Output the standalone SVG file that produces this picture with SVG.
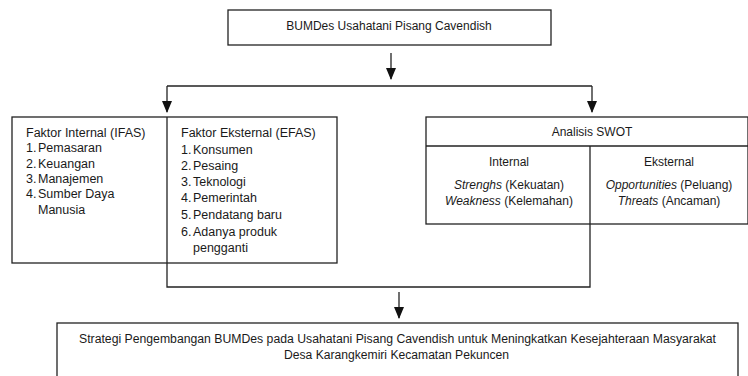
<svg xmlns="http://www.w3.org/2000/svg" width="748" height="376" viewBox="0 0 748 376">
<defs>
<marker id="ah" markerWidth="12" markerHeight="10" refX="11" refY="5" orient="auto" markerUnits="userSpaceOnUse" viewBox="0 0 12 10">
<path d="M0,0 L12,5 L0,10 Z" fill="#111"/>
</marker>
<style>
.box{fill:#fff;stroke:#222;stroke-width:1.3}
.ln{fill:none;stroke:#222;stroke-width:1.3}
.t{font-family:"Liberation Sans",Arial,sans-serif;font-size:12.5px;fill:#1a1a1a}
.s{font-family:"Liberation Sans",Arial,sans-serif;font-size:12px;fill:#1a1a1a}
.c{text-anchor:middle}
.i{font-style:italic}
</style>
</defs>
<rect width="748" height="376" fill="#fff"/>
<g id="connectors">
<path class="ln" d="M391,53 V79" marker-end="url(#ah)"/>
<path class="ln" d="M167,86 H592"/>
<path class="ln" d="M167,86 V112" marker-end="url(#ah)"/>
<path class="ln" d="M592,86 V112" marker-end="url(#ah)"/>
<path class="ln" d="M167,263 V287 H590 V224"/>
<path class="ln" d="M399,292 V318" marker-end="url(#ah)"/>
</g>
<g id="top">
<rect class="box" x="228" y="10" width="323" height="35"/>
<text class="s c" x="389" y="30">BUMDes Usahatani Pisang Cavendish</text>
</g>
<g id="factors">
<rect class="box" x="12" y="117" width="325" height="146"/>
<line class="ln" x1="167" y1="117" x2="167" y2="263"/>
<text class="t" x="26" y="137">Faktor Internal (IFAS)</text>
<text class="t" x="26" y="152">1.</text><text class="t" x="38" y="152">Pemasaran</text>
<text class="t" x="26" y="167.5">2.</text><text class="t" x="38" y="167.5">Keuangan</text>
<text class="t" x="26" y="183">3.</text><text class="t" x="38" y="183">Manajemen</text>
<text class="t" x="26" y="198">4.</text><text class="t" x="38" y="198">Sumber Daya</text>
<text class="t" x="38" y="213.5">Manusia</text>
<text class="t" x="181" y="137">Faktor Eksternal (EFAS)</text>
<text class="t" x="181" y="154">1.</text><text class="t" x="193" y="154">Konsumen</text>
<text class="t" x="181" y="170">2.</text><text class="t" x="193" y="170">Pesaing</text>
<text class="t" x="181" y="186">3.</text><text class="t" x="193" y="186">Teknologi</text>
<text class="t" x="181" y="202">4.</text><text class="t" x="193" y="202">Pemerintah</text>
<text class="t" x="181" y="219">5.</text><text class="t" x="193" y="219">Pendatang baru</text>
<text class="t" x="181" y="236">6.</text><text class="t" x="193" y="236">Adanya produk</text>
<text class="t" x="193" y="252">pengganti</text>
</g>
<g id="swot">
<rect class="box" x="426" y="117" width="322" height="107"/>
<line class="ln" x1="426" y1="146" x2="748" y2="146"/>
<line class="ln" x1="590" y1="146" x2="590" y2="224"/>
<text class="s c" x="592" y="136">Analisis SWOT</text>
<text class="s c" x="509" y="166">Internal</text>
<text class="s c" x="509" y="189"><tspan class="i">Strenghs</tspan> (Kekuatan)</text>
<text class="s c" x="509" y="205"><tspan class="i">Weakness</tspan> (Kelemahan)</text>
<text class="s c" x="669" y="166">Eksternal</text>
<text class="s c" x="669" y="189"><tspan class="i">Opportunities</tspan> (Peluang)</text>
<text class="s c" x="669" y="205"><tspan class="i">Threats</tspan> (Ancaman)</text>
</g>
<g id="bottom">
<rect class="box" x="57" y="323" width="681" height="60"/>
<text class="s c" x="397.5" y="343" textLength="637" lengthAdjust="spacingAndGlyphs">Strategi Pengembangan BUMDes pada Usahatani Pisang Cavendish untuk Meningkatkan Kesejahteraan Masyarakat</text>
<text class="s c" x="396.5" y="359" textLength="225" lengthAdjust="spacingAndGlyphs">Desa Karangkemiri Kecamatan Pekuncen</text>
</g>
</svg>
